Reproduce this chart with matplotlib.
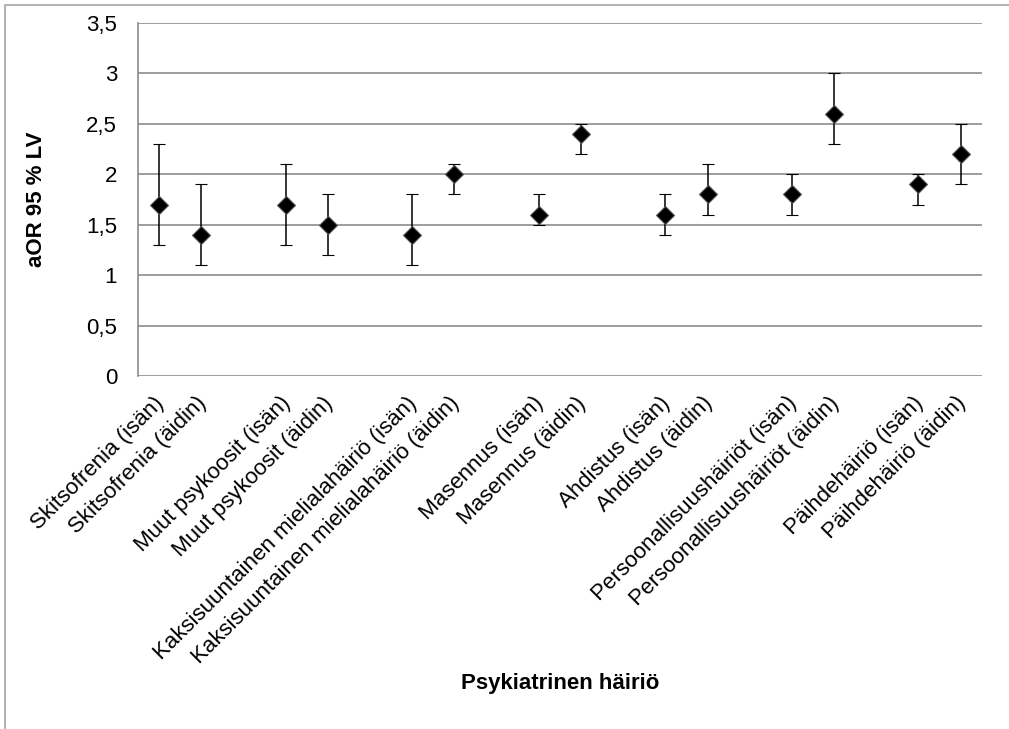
import numpy as np
import matplotlib
matplotlib.use("Agg")
from matplotlib import pyplot as plt
from matplotlib.patches import Rectangle
from matplotlib.transforms import ScaledTranslation

plt.rcParams['font.family'] = ['Liberation Sans', 'DejaVu Sans']

# Category slots (empty strings are the gaps between disorder pairs)
labels = ["Skitsofrenia (isän)", "Skitsofrenia (äidin)", "",
          "Muut psykoosit (isän)", "Muut psykoosit (äidin)", "",
          "Kaksisuuntainen mielialahäiriö (isän)", "Kaksisuuntainen mielialahäiriö (äidin)", "",
          "Masennus (isän)", "Masennus (äidin)", "",
          "Ahdistus (isän)", "Ahdistus (äidin)", "",
          "Persoonallisuushäiriöt (isän)", "Persoonallisuushäiriöt (äidin)", "",
          "Päihdehäiriö (isän)", "Päihdehäiriö (äidin)"]

aor = [1.7, 1.4, None, 1.7, 1.5, None, 1.4, 2.0, None, 1.6, 2.4, None,
       1.6, 1.8, None, 1.8, 2.6, None, 1.9, 2.2]
ci_low = [1.3, 1.1, None, 1.3, 1.2, None, 1.1, 1.8, None, 1.5, 2.2, None,
          1.4, 1.6, None, 1.6, 2.3, None, 1.7, 1.9]
ci_high = [2.3, 1.9, None, 2.1, 1.8, None, 1.8, 2.1, None, 1.8, 2.5, None,
           1.8, 2.1, None, 2.0, 3.0, None, 2.0, 2.5]

fig = plt.figure(figsize=(10.09, 7.29), dpi=100)
ax = fig.add_axes([0.1368, 0.4842, 0.8362, 0.4842])

# outer chart frame
fig.patches.append(Rectangle((5 / 1009, -0.01), 1.1, 1 - 5 / 729 + 0.01, transform=fig.transFigure,
                             fill=False, edgecolor='#a6a6a6', linewidth=1.2))

idx = [i for i, v in enumerate(aor) if v is not None]
x = np.array(idx)
y = np.array([aor[i] for i in idx])
lo = y - np.array([ci_low[i] for i in idx])
hi = np.array([ci_high[i] for i in idx]) - y

ax.errorbar(x, y, yerr=[lo, hi], fmt='D', color='black', markersize=9,
            markerfacecolor='black', markeredgecolor='#555555', markeredgewidth=0.8,
            ecolor='black', elinewidth=1.1, capsize=4.5, capthick=1.1, zorder=3)

ax.set_xlim(-0.5, len(labels) - 0.5)
ax.set_ylim(0, 3.5)
ax.set_yticks(np.arange(0, 3.51, 0.5))
ax.set_yticklabels([f"{v:g}".replace('.', ',') for v in np.arange(0, 3.51, 0.5)], fontsize=16)
ax.yaxis.grid(True, color='#8c8c8c', linewidth=1.2)
ax.set_axisbelow(True)
ax.tick_params(axis='y', length=0, pad=15)
ax.tick_params(axis='x', length=0, pad=12)

ax.set_xticks(range(len(labels)))
ax.set_xticklabels(labels, rotation=45, ha='right', va='top', rotation_mode='anchor', fontsize=16)
shift = ScaledTranslation(-6 / 100, 0, fig.dpi_scale_trans)
for lab in ax.get_xticklabels():
    lab.set_transform(lab.get_transform() + shift)

for side in ['top', 'right', 'bottom']:
    ax.spines[side].set_visible(False)
ax.spines['left'].set_color('#8c8c8c')
ax.spines['left'].set_linewidth(1.2)

ax.set_ylabel("aOR 95 % LV", fontsize=16, fontweight='bold', labelpad=28)
fig.text(0.555, 1 - 683 / 729, "Psykiatrinen häiriö", fontsize=16, fontweight='bold',
         ha='center', va='center')

fig.savefig("out.png", dpi=100)
